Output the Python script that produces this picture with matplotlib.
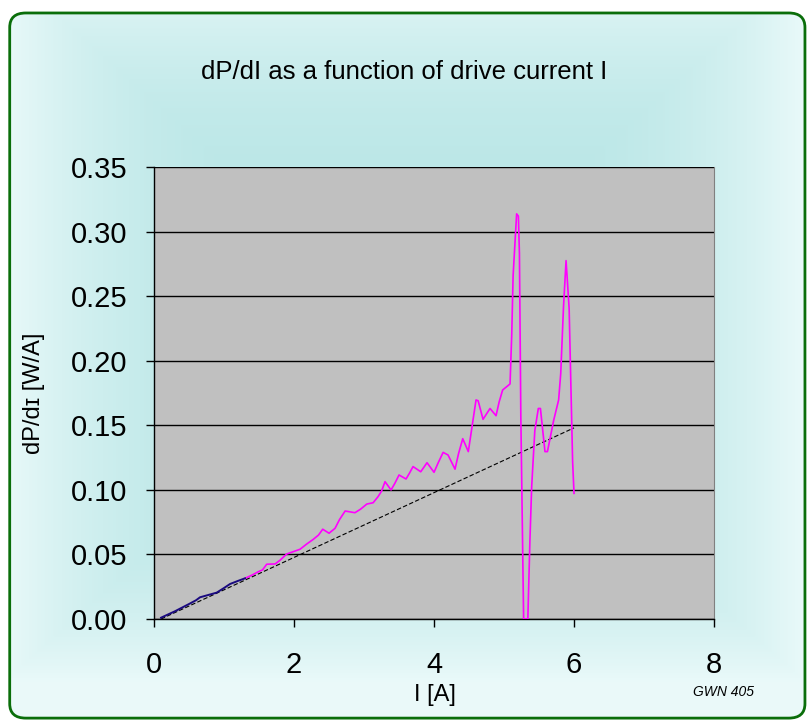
import matplotlib.pyplot as plt
import numpy as np
from matplotlib.patches import FancyBboxPatch

plt.rcParams['font.family'] = ['Liberation Sans', 'DejaVu Sans']

# low-current part (navy) and rest of dP/dI curve (magenta)
fit_current = [0.1, 0.3, 0.514, 0.6, 0.657, 0.776, 0.895, 1.0, 1.086, 1.2, 1.3]
fit_slope = [0.001, 0.006, 0.012, 0.0145, 0.0168, 0.0186, 0.0204, 0.024, 0.0271, 0.0295, 0.0315]

current = [1.3, 1.4, 1.49, 1.55, 1.61, 1.73, 1.8, 1.895, 2.086, 2.18, 2.276, 2.35, 2.41,
           2.5, 2.586, 2.65, 2.73, 2.87, 2.95, 3.04, 3.13, 3.2, 3.25, 3.3, 3.386, 3.44,
           3.5, 3.6, 3.65, 3.7, 3.81, 3.9, 4.0, 4.06, 4.13, 4.2, 4.3, 4.35, 4.41, 4.49,
           4.55, 4.6, 4.63, 4.7, 4.8, 4.886, 4.93, 4.98, 5.086, 5.11, 5.13, 5.18, 5.205,
           5.22, 5.24, 5.28, 5.34, 5.37, 5.395, 5.44, 5.49, 5.52, 5.585, 5.62, 5.71, 5.78,
           5.81, 5.85, 5.886, 5.9, 5.93, 5.98, 6.0]
slope = [0.0315, 0.034, 0.0366, 0.038, 0.0424, 0.0426, 0.0455, 0.0503, 0.054, 0.058,
         0.0617, 0.065, 0.0695, 0.0664, 0.0702, 0.077, 0.0836, 0.0823, 0.085, 0.089,
         0.090, 0.0947, 0.099, 0.1063, 0.0999, 0.105, 0.1115, 0.1084, 0.113, 0.118,
         0.114, 0.121, 0.1136, 0.121, 0.129, 0.127, 0.116, 0.128, 0.1396, 0.1296, 0.1515,
         0.1696, 0.169, 0.1546, 0.163, 0.1574, 0.168, 0.1773, 0.182, 0.22, 0.266, 0.3137,
         0.312, 0.283, 0.157, 0.0, 0.0, 0.061, 0.1025, 0.146, 0.163, 0.163, 0.1296, 0.1296,
         0.154, 0.1696, 0.190, 0.242, 0.2775, 0.266, 0.2406, 0.1218, 0.0973]

# straight reference line
line_current = [0.1, 6.0]
line_slope = [0.0, 0.148]

fig = plt.figure(figsize=(8.09, 7.21), dpi=100)

# background panel with soft cyan gradient
bg = fig.add_axes([0, 0, 1, 1], zorder=-10)
bg.set_xlim(0, 1)
bg.set_ylim(0, 1)
bg.axis('off')
yy, xx = np.mgrid[0:1:300j, 0:1:300j]
dx = np.clip(np.abs(xx - 0.5) / 0.5, 0, 1)
dy = np.clip(np.abs(yy - 0.55) / 0.5, 0, 1)
d = np.maximum(dx, dy) ** 3
c_in = np.array([0.72, 0.90, 0.90])
c_out = np.array([0.92, 0.98, 0.98])
img = c_in + (c_out - c_in) * d[..., None]
im = bg.imshow(img, extent=[0, 1, 0, 1], origin='lower', aspect='auto')
box = FancyBboxPatch((0.012, 0.004), 0.983, 0.978, boxstyle='round,pad=0,rounding_size=0.02',
                     transform=bg.transAxes, facecolor='none', edgecolor='#0a6e0a', linewidth=2)
bg.add_patch(box)
im.set_clip_path(box)

ax = fig.add_axes([0.1904, 0.1415, 0.6922, 0.6269])
ax.set_facecolor('#c0c0c0')
ax.plot(line_current, line_slope, color='black', linestyle=(0, (4, 2)), linewidth=0.8, zorder=3)
ax.plot(current, slope, color='#ff00ff', linewidth=1.2, zorder=4)
ax.plot(fit_current, fit_slope, color='#1a0a80', linewidth=1.4, zorder=5)

ax.set_xlim(0, 8)
ax.set_ylim(0, 0.35)
ax.set_xticks([0, 2, 4, 6, 8])
ax.set_yticks(np.arange(0, 0.351, 0.05))
ax.set_yticklabels([f'{v:.2f}' for v in np.arange(0, 0.351, 0.05)])
ax.yaxis.grid(True, color='black', linewidth=1)
ax.set_axisbelow(True)
ax.tick_params(axis='both', direction='out', length=6, width=1, labelsize=21)
ax.tick_params(axis='x', pad=17)
ax.tick_params(axis='y', pad=13)
ax.spines['right'].set_color('#808080')
ax.spines['top'].set_visible(False)
ax.spines['left'].set_linewidth(1)
ax.spines['bottom'].set_linewidth(1)

fig.text(0.5, 0.9, 'dP/dI as a function of drive current I', ha='center', va='center', fontsize=18.5)
fig.text(0.538, 0.036, 'I [A]', ha='center', va='center', fontsize=17)
fig.text(0.042, 0.455, 'dP/dɪ [W/A]', ha='center', va='center', rotation=90, fontsize=17)
fig.text(0.894, 0.04, 'GWN 405', ha='center', va='center', fontsize=10, style='italic')

fig.savefig('out.png', dpi=100)
